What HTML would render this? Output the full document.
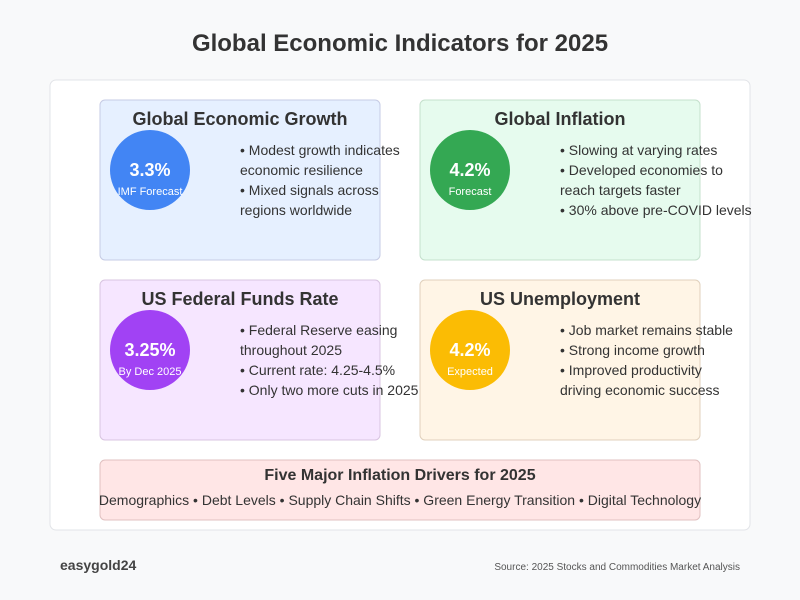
<!DOCTYPE html>
<html><head><meta charset="utf-8"><style>body{margin:0;background:#f8f9fa}svg{display:block;font-family:"Liberation Sans",Arial,sans-serif}</style></head>
<body>
<svg width="800" height="600" viewBox="0 0 800 600">
<rect width="800" height="600" fill="#f8f9fa"/>
<text x="400" y="51" text-anchor="middle" font-size="24" font-weight="bold" fill="#333">Global Economic Indicators for 2025</text>
<rect x="50" y="80" width="700" height="450" rx="6" fill="#fff" stroke="#e2e4e8"/>

<rect x="100" y="100" width="280" height="160" rx="5" fill="#e6f0ff" stroke="#c6cbe4"/>
<text x="240" y="125" text-anchor="middle" font-size="18" font-weight="bold" fill="#333">Global Economic Growth</text>
<circle cx="150" cy="170" r="40" fill="#4285f4"/>
<text x="150" y="176" text-anchor="middle" font-size="18" font-weight="bold" fill="#fff">3.3%</text>
<text x="150" y="195" text-anchor="middle" font-size="11" fill="#fff">IMF Forecast</text>
<g font-size="14" fill="#333"><text x="240" y="155">• Modest growth indicates</text><text x="240" y="175">economic resilience</text><text x="240" y="195">• Mixed signals across</text><text x="240" y="215">regions worldwide</text></g>

<rect x="420" y="100" width="280" height="160" rx="5" fill="#e6fbee" stroke="#c4e0cc"/>
<text x="560" y="125" text-anchor="middle" font-size="18" font-weight="bold" fill="#333">Global Inflation</text>
<circle cx="470" cy="170" r="40" fill="#34a853"/>
<text x="470" y="176" text-anchor="middle" font-size="18" font-weight="bold" fill="#fff">4.2%</text>
<text x="470" y="195" text-anchor="middle" font-size="11" fill="#fff">Forecast</text>
<g font-size="14" fill="#333"><text x="560" y="155">• Slowing at varying rates</text><text x="560" y="175">• Developed economies to</text><text x="560" y="195">reach targets faster</text><text x="560" y="215">• 30% above pre-COVID levels</text></g>

<rect x="100" y="280" width="280" height="160" rx="5" fill="#f6e6ff" stroke="#d8c4e0"/>
<text x="240" y="305" text-anchor="middle" font-size="18" font-weight="bold" fill="#333">US Federal Funds Rate</text>
<circle cx="150" cy="350" r="40" fill="#a142f4"/>
<text x="150" y="356" text-anchor="middle" font-size="18" font-weight="bold" fill="#fff">3.25%</text>
<text x="150" y="375" text-anchor="middle" font-size="11" fill="#fff">By Dec 2025</text>
<g font-size="14" fill="#333"><text x="240" y="335">• Federal Reserve easing</text><text x="240" y="355">throughout 2025</text><text x="240" y="375">• Current rate: 4.25-4.5%</text><text x="240" y="395">• Only two more cuts in 2025</text></g>

<rect x="420" y="280" width="280" height="160" rx="5" fill="#fff5e6" stroke="#e0d0bc"/>
<text x="560" y="305" text-anchor="middle" font-size="18" font-weight="bold" fill="#333">US Unemployment</text>
<circle cx="470" cy="350" r="40" fill="#fbbc04"/>
<text x="470" y="356" text-anchor="middle" font-size="18" font-weight="bold" fill="#fff">4.2%</text>
<text x="470" y="375" text-anchor="middle" font-size="11" fill="#fff">Expected</text>
<g font-size="14" fill="#333"><text x="560" y="335">• Job market remains stable</text><text x="560" y="355">• Strong income growth</text><text x="560" y="375">• Improved productivity</text><text x="560" y="395">driving economic success</text></g>

<rect x="100" y="460" width="600" height="60" rx="5" fill="#ffe6e6" stroke="#e0c0c0"/>
<text x="400" y="480" text-anchor="middle" font-size="16" font-weight="bold" fill="#333">Five Major Inflation Drivers for 2025</text>
<text x="400" y="505" text-anchor="middle" font-size="14" fill="#333">Demographics • Debt Levels • Supply Chain Shifts • Green Energy Transition • Digital Technology</text>

<text x="60" y="570" font-size="14" font-weight="bold" fill="#444">easygold24</text>
<text x="740" y="570" text-anchor="end" font-size="10" fill="#555">Source: 2025 Stocks and Commodities Market Analysis</text>
</svg>
</body></html>
